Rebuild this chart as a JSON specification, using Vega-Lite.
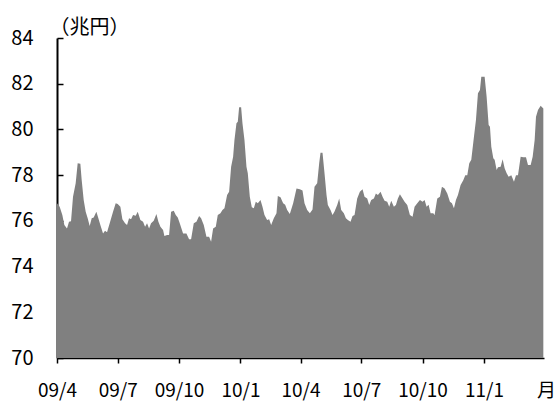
{
  "$schema": "https://vega.github.io/schema/vega-lite/v6.json",
  "width": 487,
  "height": 320,
  "autosize": {"type": "none"},
  "padding": {"left": 57, "top": 38, "right": 12, "bottom": 47},
  "background": "white",
  "config": {"view": {"stroke": null}, "font": "Noto Sans CJK JP"},
  "data": {"values": [
    {"date": "2009-04-01", "value": 76.77},
    {"date": "2009-04-05", "value": 76.62},
    {"date": "2009-04-09", "value": 76.26},
    {"date": "2009-04-12", "value": 75.82},
    {"date": "2009-04-16", "value": 75.67},
    {"date": "2009-04-19", "value": 75.96},
    {"date": "2009-04-22", "value": 75.98},
    {"date": "2009-04-25", "value": 77.06},
    {"date": "2009-04-29", "value": 77.64},
    {"date": "2009-05-02", "value": 78.52},
    {"date": "2009-05-06", "value": 78.5},
    {"date": "2009-05-08", "value": 77.79},
    {"date": "2009-05-11", "value": 76.91},
    {"date": "2009-05-14", "value": 76.4},
    {"date": "2009-05-17", "value": 76.11},
    {"date": "2009-05-20", "value": 75.77},
    {"date": "2009-05-23", "value": 76.11},
    {"date": "2009-05-26", "value": 76.15},
    {"date": "2009-05-30", "value": 76.4},
    {"date": "2009-06-02", "value": 76.11},
    {"date": "2009-06-05", "value": 75.82},
    {"date": "2009-06-09", "value": 75.45},
    {"date": "2009-06-12", "value": 75.57},
    {"date": "2009-06-15", "value": 75.5},
    {"date": "2009-06-19", "value": 75.89},
    {"date": "2009-06-24", "value": 76.4},
    {"date": "2009-06-28", "value": 76.77},
    {"date": "2009-07-01", "value": 76.74},
    {"date": "2009-07-05", "value": 76.62},
    {"date": "2009-07-08", "value": 76.07},
    {"date": "2009-07-12", "value": 75.89},
    {"date": "2009-07-15", "value": 75.82},
    {"date": "2009-07-18", "value": 76.11},
    {"date": "2009-07-21", "value": 76.07},
    {"date": "2009-07-24", "value": 76.26},
    {"date": "2009-07-28", "value": 76.22},
    {"date": "2009-07-31", "value": 76.4},
    {"date": "2009-08-04", "value": 76.04},
    {"date": "2009-08-08", "value": 75.96},
    {"date": "2009-08-11", "value": 75.74},
    {"date": "2009-08-14", "value": 75.89},
    {"date": "2009-08-17", "value": 75.67},
    {"date": "2009-08-20", "value": 75.89},
    {"date": "2009-08-24", "value": 76.0},
    {"date": "2009-08-28", "value": 76.3},
    {"date": "2009-08-31", "value": 75.96},
    {"date": "2009-09-03", "value": 75.74},
    {"date": "2009-09-07", "value": 75.6},
    {"date": "2009-09-09", "value": 75.34},
    {"date": "2009-09-13", "value": 75.38},
    {"date": "2009-09-16", "value": 75.38},
    {"date": "2009-09-19", "value": 76.4},
    {"date": "2009-09-23", "value": 76.44},
    {"date": "2009-09-26", "value": 76.26},
    {"date": "2009-09-29", "value": 76.15},
    {"date": "2009-10-02", "value": 75.89},
    {"date": "2009-10-07", "value": 75.45},
    {"date": "2009-10-12", "value": 75.45},
    {"date": "2009-10-16", "value": 75.19},
    {"date": "2009-10-19", "value": 75.19},
    {"date": "2009-10-23", "value": 75.89},
    {"date": "2009-10-27", "value": 75.96},
    {"date": "2009-10-31", "value": 76.21},
    {"date": "2009-11-03", "value": 76.11},
    {"date": "2009-11-07", "value": 75.82},
    {"date": "2009-11-11", "value": 75.31},
    {"date": "2009-11-15", "value": 75.31},
    {"date": "2009-11-18", "value": 75.09},
    {"date": "2009-11-21", "value": 75.67},
    {"date": "2009-11-25", "value": 75.74},
    {"date": "2009-11-28", "value": 76.26},
    {"date": "2009-12-02", "value": 76.33},
    {"date": "2009-12-05", "value": 76.47},
    {"date": "2009-12-08", "value": 76.55},
    {"date": "2009-12-12", "value": 77.13},
    {"date": "2009-12-15", "value": 77.27},
    {"date": "2009-12-18", "value": 78.37},
    {"date": "2009-12-21", "value": 78.81},
    {"date": "2009-12-23", "value": 79.54},
    {"date": "2009-12-26", "value": 80.27},
    {"date": "2009-12-28", "value": 80.34},
    {"date": "2009-12-30", "value": 80.97},
    {"date": "2010-01-02", "value": 80.97},
    {"date": "2010-01-04", "value": 80.27},
    {"date": "2010-01-07", "value": 79.54},
    {"date": "2010-01-10", "value": 78.37},
    {"date": "2010-01-12", "value": 78.08},
    {"date": "2010-01-15", "value": 77.06},
    {"date": "2010-01-18", "value": 76.59},
    {"date": "2010-01-21", "value": 76.55},
    {"date": "2010-01-24", "value": 76.84},
    {"date": "2010-01-27", "value": 76.77},
    {"date": "2010-01-31", "value": 76.91},
    {"date": "2010-02-03", "value": 76.62},
    {"date": "2010-02-06", "value": 76.26},
    {"date": "2010-02-10", "value": 76.04},
    {"date": "2010-02-13", "value": 76.07},
    {"date": "2010-02-16", "value": 75.82},
    {"date": "2010-02-20", "value": 76.11},
    {"date": "2010-02-24", "value": 76.33},
    {"date": "2010-02-26", "value": 77.09},
    {"date": "2010-03-02", "value": 77.03},
    {"date": "2010-03-06", "value": 76.77},
    {"date": "2010-03-09", "value": 76.7},
    {"date": "2010-03-12", "value": 76.47},
    {"date": "2010-03-16", "value": 76.3},
    {"date": "2010-03-21", "value": 76.77},
    {"date": "2010-03-26", "value": 77.42},
    {"date": "2010-03-31", "value": 77.38},
    {"date": "2010-04-04", "value": 77.33},
    {"date": "2010-04-07", "value": 76.77},
    {"date": "2010-04-11", "value": 76.47},
    {"date": "2010-04-15", "value": 76.33},
    {"date": "2010-04-19", "value": 76.5},
    {"date": "2010-04-22", "value": 77.49},
    {"date": "2010-04-26", "value": 77.64},
    {"date": "2010-04-29", "value": 78.52},
    {"date": "2010-05-01", "value": 78.98},
    {"date": "2010-05-04", "value": 78.98},
    {"date": "2010-05-07", "value": 78.08},
    {"date": "2010-05-10", "value": 77.13},
    {"date": "2010-05-12", "value": 76.69},
    {"date": "2010-05-16", "value": 76.47},
    {"date": "2010-05-19", "value": 76.26},
    {"date": "2010-05-22", "value": 76.41},
    {"date": "2010-05-26", "value": 76.69},
    {"date": "2010-05-29", "value": 76.98},
    {"date": "2010-06-01", "value": 76.47},
    {"date": "2010-06-05", "value": 76.33},
    {"date": "2010-06-08", "value": 76.11},
    {"date": "2010-06-11", "value": 76.04},
    {"date": "2010-06-15", "value": 75.96},
    {"date": "2010-06-18", "value": 76.21},
    {"date": "2010-06-21", "value": 76.26},
    {"date": "2010-06-25", "value": 76.98},
    {"date": "2010-06-29", "value": 77.27},
    {"date": "2010-07-03", "value": 77.38},
    {"date": "2010-07-06", "value": 77.06},
    {"date": "2010-07-10", "value": 76.98},
    {"date": "2010-07-13", "value": 76.69},
    {"date": "2010-07-16", "value": 76.91},
    {"date": "2010-07-20", "value": 76.98},
    {"date": "2010-07-23", "value": 77.2},
    {"date": "2010-07-26", "value": 77.13},
    {"date": "2010-07-30", "value": 77.27},
    {"date": "2010-08-02", "value": 77.06},
    {"date": "2010-08-05", "value": 76.88},
    {"date": "2010-08-09", "value": 76.84},
    {"date": "2010-08-12", "value": 76.62},
    {"date": "2010-08-15", "value": 76.88},
    {"date": "2010-08-19", "value": 76.62},
    {"date": "2010-08-22", "value": 76.69},
    {"date": "2010-08-25", "value": 76.98},
    {"date": "2010-08-28", "value": 77.16},
    {"date": "2010-09-01", "value": 76.98},
    {"date": "2010-09-04", "value": 76.84},
    {"date": "2010-09-08", "value": 76.69},
    {"date": "2010-09-12", "value": 76.26},
    {"date": "2010-09-16", "value": 76.18},
    {"date": "2010-09-19", "value": 76.62},
    {"date": "2010-09-23", "value": 76.77},
    {"date": "2010-09-27", "value": 76.91},
    {"date": "2010-10-01", "value": 76.84},
    {"date": "2010-10-04", "value": 76.91},
    {"date": "2010-10-07", "value": 76.62},
    {"date": "2010-10-10", "value": 76.7},
    {"date": "2010-10-13", "value": 76.33},
    {"date": "2010-10-17", "value": 76.33},
    {"date": "2010-10-19", "value": 76.26},
    {"date": "2010-10-23", "value": 76.98},
    {"date": "2010-10-27", "value": 77.06},
    {"date": "2010-10-30", "value": 77.49},
    {"date": "2010-11-03", "value": 77.42},
    {"date": "2010-11-07", "value": 77.2},
    {"date": "2010-11-11", "value": 76.84},
    {"date": "2010-11-14", "value": 76.77},
    {"date": "2010-11-17", "value": 76.55},
    {"date": "2010-11-20", "value": 76.91},
    {"date": "2010-11-23", "value": 77.13},
    {"date": "2010-11-27", "value": 77.57},
    {"date": "2010-12-01", "value": 77.78},
    {"date": "2010-12-04", "value": 78.0},
    {"date": "2010-12-07", "value": 78.0},
    {"date": "2010-12-10", "value": 78.52},
    {"date": "2010-12-13", "value": 78.67},
    {"date": "2010-12-17", "value": 79.68},
    {"date": "2010-12-20", "value": 80.41},
    {"date": "2010-12-23", "value": 81.58},
    {"date": "2010-12-26", "value": 81.72},
    {"date": "2010-12-28", "value": 82.31},
    {"date": "2011-01-02", "value": 82.31},
    {"date": "2011-01-05", "value": 81.43},
    {"date": "2011-01-08", "value": 80.19},
    {"date": "2011-01-10", "value": 80.12},
    {"date": "2011-01-12", "value": 79.24},
    {"date": "2011-01-15", "value": 78.74},
    {"date": "2011-01-17", "value": 78.67},
    {"date": "2011-01-20", "value": 78.22},
    {"date": "2011-01-22", "value": 78.34},
    {"date": "2011-01-26", "value": 78.37},
    {"date": "2011-01-29", "value": 78.7},
    {"date": "2011-02-01", "value": 78.3},
    {"date": "2011-02-04", "value": 78.08},
    {"date": "2011-02-07", "value": 77.93},
    {"date": "2011-02-11", "value": 78.0},
    {"date": "2011-02-15", "value": 77.71},
    {"date": "2011-02-18", "value": 78.0},
    {"date": "2011-02-21", "value": 78.0},
    {"date": "2011-02-25", "value": 78.81},
    {"date": "2011-03-01", "value": 78.78},
    {"date": "2011-03-05", "value": 78.78},
    {"date": "2011-03-08", "value": 78.44},
    {"date": "2011-03-12", "value": 78.44},
    {"date": "2011-03-15", "value": 78.81},
    {"date": "2011-03-18", "value": 79.54},
    {"date": "2011-03-20", "value": 80.56},
    {"date": "2011-03-23", "value": 80.85},
    {"date": "2011-03-27", "value": 81.04},
    {"date": "2011-03-31", "value": 80.92}
  ]},
  "mark": {"type": "area", "color": "#808080", "opacity": 1, "interpolate": "linear"},
  "encoding": {
    "x": {
      "field": "date",
      "type": "temporal",
      "scale": {
        "type": "utc",
        "domain": [
          {"year": 2009, "month": 4, "date": 1, "utc": true},
          {"year": 2011, "month": 4, "date": 1, "utc": true}
        ]
      },
      "axis": {
        "values": [
          {"year": 2009, "month": 4, "date": 1, "utc": true},
          {"year": 2009, "month": 7, "date": 1, "utc": true},
          {"year": 2009, "month": 10, "date": 1, "utc": true},
          {"year": 2010, "month": 1, "date": 1, "utc": true},
          {"year": 2010, "month": 4, "date": 1, "utc": true},
          {"year": 2010, "month": 7, "date": 1, "utc": true},
          {"year": 2010, "month": 10, "date": 1, "utc": true},
          {"year": 2011, "month": 1, "date": 1, "utc": true}
        ],
        "labelExpr": "utcFormat(datum.value, '%y/%-m')",
        "grid": false,
        "domainColor": "black",
        "domainWidth": 1.5,
        "tickColor": "black",
        "tickWidth": 1.5,
        "tickSize": 5,
        "labelPadding": 18,
        "labelFontSize": 19,
        "labelColor": "black",
        "labelFlush": false,
        "labelOverlap": false,
        "title": "月",
        "titleFontSize": 19,
        "titleFontWeight": "normal",
        "titleColor": "black",
        "titleAlign": "center",
        "titleBaseline": "top",
        "titleX": 489,
        "titleY": 23
      }
    },
    "y": {
      "field": "value",
      "type": "quantitative",
      "scale": {"domain": [70, 84], "zero": false, "nice": false},
      "axis": {
        "values": [70, 72, 74, 76, 78, 80, 82, 84],
        "grid": false,
        "domainColor": "black",
        "domainWidth": 2,
        "tickColor": "black",
        "tickWidth": 1.5,
        "tickSize": -6,
        "labelPadding": 30,
        "labelFontSize": 20,
        "labelColor": "black",
        "labelFlush": false,
        "labelOverlap": false,
        "title": "（兆円）",
        "titleAngle": 0,
        "titleFontSize": 20,
        "titleFontWeight": "normal",
        "titleColor": "black",
        "titleAlign": "left",
        "titleBaseline": "bottom",
        "titleX": -8,
        "titleY": -1
      }
    },
    "y2": {"datum": 70}
  }
}
